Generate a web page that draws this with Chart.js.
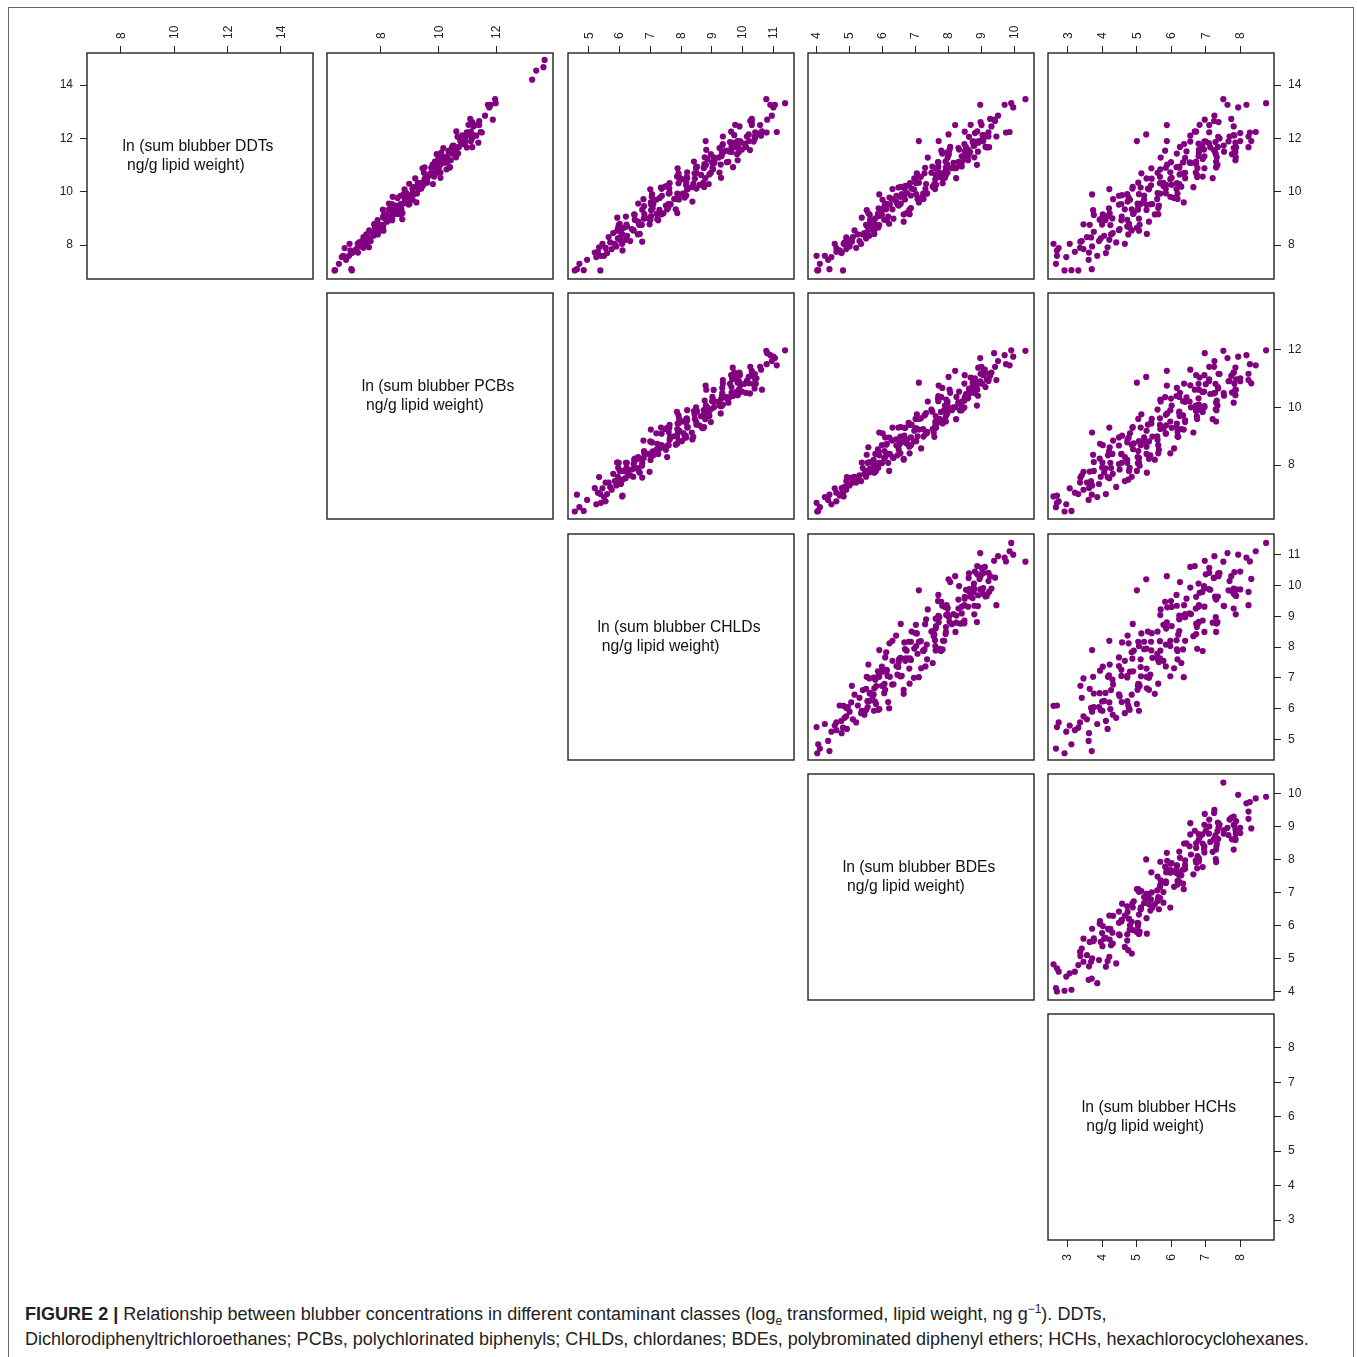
<!DOCTYPE html>
<html><head><meta charset="utf-8">
<script src="https://cdn.jsdelivr.net/npm/chart.js@4.4.1/dist/chart.umd.min.js"></script>
<style>
html,body{margin:0;padding:0;background:#fff;}
#fig{position:relative;width:1357px;height:1357px;overflow:hidden;font-family:"Liberation Sans",Arial,sans-serif;background:#fff;}
#frame{position:absolute;left:8px;top:7px;width:1346px;height:1400px;border:1px solid #666;box-sizing:border-box;}
canvas{position:absolute;}
#caption{position:absolute;left:25px;top:1302px;font-size:18.05px;line-height:25px;color:#222;white-space:nowrap;}
#caption sub,#caption sup{font-size:12px;line-height:0;}
</style></head><body>
<div id="fig"><div id="frame"></div>
<div id="caption"><b>FIGURE 2 |</b> Relationship between blubber concentrations in different contaminant classes (log<sub>e</sub> transformed, lipid weight, ng g<sup>−1</sup>). DDTs,<br>Dichlorodiphenyltrichloroethanes; PCBs, polychlorinated biphenyls; CHLDs, chlordanes; BDEs, polybrominated diphenyl ethers; HCHs, hexachlorocyclohexanes.</div>
</div>
<script>
// ---- data (ln ng/g lipid weight), one entry per sample ----
const ddt = [7.05,7.06,7.05,7.30,7.60,7.45,7.55,7.80,7.60,7.75,7.85,7.70,8.05,7.95,8.10,7.90,8.15,8.05,8.30,8.20,8.25,8.40,8.15,8.45,8.35,8.55,8.50,8.60,8.40,8.65,
8.76,8.54,8.94,8.70,8.78,8.56,8.99,8.77,8.95,9.13,8.76,9.07,9.00,9.15,8.93,9.33,9.09,9.17,8.95,9.38,
9.16,9.34,9.52,9.15,9.46,9.39,9.54,9.32,9.72,9.48,9.56,9.34,9.77,9.55,9.73,9.91,9.54,9.85,9.78,9.93,
9.71,10.11,9.87,9.95,9.73,10.16,9.94,10.12,10.30,9.93,10.24,10.17,10.32,10.10,10.50,10.26,10.34,10.12,10.55,10.33,
10.51,10.69,10.32,10.63,10.56,10.71,10.49,10.89,10.65,10.73,10.51,10.94,10.72,10.90,11.08,10.71,11.02,10.95,11.10,10.88,
11.28,11.04,11.12,10.90,11.33,11.11,11.29,11.47,11.10,11.41,11.34,11.49,11.27,11.67,11.43,11.51,11.29,11.72,11.50,11.68,
11.86,11.49,11.80,11.73,11.88,11.66,12.06,11.82,11.90,11.68,12.11,11.89,12.07,12.25,11.88,
13.32,13.47,13.26,13.16,13.26,12.65,12.50,12.45,12.20,11.90,12.00,11.64,12.12,12.50,12.15,11.90,11.90,12.10,12.85,12.70,
9.90,10.10,9.70,14.20,14.54,14.67,14.94,
7.10,7.89,7.72,8.05,7.92,8.29,8.66,8.13,8.75,8.42,9.03,8.80,9.31,8.88,9.19,9.56,8.97,9.53,9.20,9.81,
9.52,10.09,9.60,9.91,10.22,9.63,10.19,9.86,10.47,10.18,10.69,10.26,10.57,10.88,10.29,10.91,10.52,11.13,10.84,11.41,
10.92,11.23,11.54,11.01,11.57,11.18,11.79,11.56,12.07,11.58,11.89,12.26,11.67,12.23,11.84,12.51,12.22,12.73,12.24,12.61];
const pcb = [6.40,6.42,7.00,6.55,6.70,6.80,6.65,6.95,6.90,7.05,7.15,7.00,7.20,7.30,7.25,7.40,7.35,7.45,7.40,7.55,7.60,7.50,7.65,7.70,7.75,7.60,7.80,7.85,7.90,7.80,
7.78,8.09,7.89,8.08,7.77,8.04,8.25,7.92,8.18,8.11,7.98,8.08,8.39,8.19,8.39,8.07,8.34,8.55,8.23,8.48,
8.41,8.28,8.39,8.69,8.49,8.69,8.38,8.64,8.85,8.53,8.79,8.71,8.58,8.69,9.00,8.79,8.99,8.68,8.95,9.15,
8.83,9.09,9.02,8.88,8.99,9.30,9.10,9.29,8.98,9.25,9.46,9.13,9.39,9.32,9.19,9.29,9.60,9.40,9.60,9.28,
9.55,9.76,9.44,9.69,9.62,9.49,9.60,9.90,9.70,9.90,9.59,9.85,10.06,9.74,10.00,9.92,9.79,9.90,10.21,10.00,
10.20,9.89,10.16,10.36,10.04,10.30,10.23,10.09,10.20,10.51,10.31,10.50,10.19,10.46,10.67,10.34,10.60,10.53,10.40,10.50,
10.81,10.61,10.81,10.49,10.76,10.97,10.65,10.90,10.83,10.70,10.81,11.11,10.91,11.11,10.80,
11.97,11.95,11.80,11.75,11.70,11.40,11.40,11.20,11.00,10.90,11.15,10.16,11.20,11.26,11.05,10.85,10.75,11.30,11.60,11.87,
9.13,9.30,9.10,13.23,13.37,13.62,13.66,
6.98,6.75,7.21,6.92,7.59,7.45,7.91,7.57,8.08,7.74,8.09,7.80,8.36,8.22,8.62,8.28,8.74,8.34,8.75,8.41,
8.96,8.82,9.23,8.83,9.29,8.89,9.25,8.96,9.51,9.32,9.72,9.38,9.84,9.44,9.80,9.51,10.06,9.87,10.27,9.93,
10.39,9.99,10.35,10.06,10.61,10.42,10.82,10.48,10.94,10.54,10.90,10.61,11.16,10.97,11.37,11.03,11.49,11.09,11.45,11.16];
const chld = [4.55,4.84,5.38,4.70,5.40,4.95,5.25,6.10,5.50,5.30,5.75,5.60,5.45,5.90,5.70,5.55,6.05,5.85,5.65,6.20,5.95,6.10,6.35,5.80,6.25,6.45,6.05,6.40,6.60,6.15,
6.64,5.93,6.51,6.24,6.98,6.46,6.79,6.23,7.01,6.49,6.73,6.21,6.94,6.48,7.26,6.74,7.03,7.21,6.50,7.08,
6.81,7.55,7.03,7.36,6.80,7.58,7.06,7.30,6.78,7.51,7.05,7.83,7.31,7.60,7.78,7.06,7.65,7.38,8.12,7.60,
7.93,7.37,8.15,7.63,7.87,7.35,8.08,7.62,8.40,7.88,8.17,8.35,7.63,8.22,7.95,8.68,8.17,8.50,7.94,8.72,
8.20,8.44,7.92,8.65,8.19,8.97,8.45,8.74,8.92,8.20,8.79,8.52,9.25,8.74,9.07,8.50,9.29,8.77,9.01,8.49,
9.22,8.76,9.54,9.02,9.31,9.49,8.77,9.36,9.09,9.82,9.31,9.64,9.07,9.86,9.34,9.57,9.06,9.79,9.33,10.11,
9.59,9.88,10.06,9.34,9.93,9.66,10.39,9.88,10.21,9.64,10.43,9.91,10.14,9.63,10.36,
11.38,10.77,10.90,11.00,11.05,10.25,10.57,9.90,10.45,9.87,10.40,9.25,9.73,10.30,10.20,9.84,8.80,10.60,10.95,10.80,
7.90,8.20,7.20,null,null,null,null,
4.62,5.55,5.20,6.09,5.34,6.02,5.96,6.74,5.98,6.66,5.93,6.01,7.03,6.61,7.43,6.61,7.23,7.10,7.88,7.05,
7.66,7.00,7.02,8.03,7.55,8.37,7.48,8.17,8.03,8.75,7.92,8.60,7.87,7.89,8.90,8.49,9.30,8.42,9.04,8.97,
9.69,8.86,9.47,8.81,8.82,9.84,9.36,10.24,9.36,9.98,9.84,10.63,9.79,10.41,9.68,9.76,10.78,10.30,11.11,10.30];
const bde = [4.02,4.05,4.80,4.10,4.00,4.35,4.45,4.70,4.25,4.60,4.90,4.75,4.55,5.00,4.85,5.20,4.95,5.35,5.10,5.05,5.50,5.25,5.30,5.45,5.60,5.15,5.55,5.70,5.40,5.80,
5.50,5.74,5.62,5.54,5.60,5.73,6.33,5.77,5.73,5.61,5.81,6.17,5.78,6.64,6.12,5.98,5.90,5.86,6.05,5.88,
6.82,6.30,6.22,5.98,6.06,6.86,6.15,6.81,6.29,6.49,6.55,6.11,7.17,6.50,7.06,6.58,6.54,6.42,6.21,7.35,
6.68,7.30,6.66,6.74,7.24,6.48,7.34,6.67,7.57,7.23,6.79,7.55,6.83,7.59,6.96,7.62,7.10,6.88,7.73,7.01,
7.83,7.04,7.82,7.92,7.16,7.72,7.00,8.10,7.61,7.87,8.23,7.51,7.97,7.29,8.15,7.48,7.96,8.40,7.69,8.21,
7.37,8.35,8.30,8.24,8.40,7.68,8.48,7.94,8.40,8.61,8.59,8.65,7.97,8.53,7.81,8.49,8.78,8.76,8.89,8.05,
8.73,8.63,8.77,8.78,8.76,9.16,8.62,8.78,8.94,9.12,9.03,9.05,9.21,8.49,8.87,
9.90,10.33,9.70,9.96,8.96,9.41,9.00,9.30,8.80,8.96,9.06,8.30,9.05,8.20,8.00,7.10,7.70,9.10,9.50,9.38,
5.90,6.30,6.00,null,null,null,null,
4.39,4.60,4.76,4.82,4.92,4.90,5.87,5.07,5.90,5.75,5.37,6.20,5.52,6.64,5.57,6.08,6.13,6.45,6.73,6.54,
6.08,6.95,7.10,7.02,6.69,6.41,7.52,6.86,7.60,6.55,7.27,7.61,7.77,7.61,7.32,7.92,7.89,7.91,7.93,8.01,
7.69,8.48,7.78,8.86,8.03,8.59,8.48,8.61,9.45,8.32,8.74,8.87,9.23,9.21,8.90,8.67,9.74,9.26,9.85,8.97];
const hch = [2.90,3.10,3.30,2.65,2.68,3.60,2.95,2.68,3.85,3.20,3.45,4.10,3.05,3.70,4.40,3.35,3.90,4.65,3.55,4.20,3.95,4.75,3.40,4.30,4.05,4.85,3.75,4.50,4.25,5.00,
3.63,5.06,4.09,4.72,3.45,4.48,5.06,3.99,4.72,3.75,5.08,4.56,4.29,5.52,4.55,5.03,4.16,4.89,3.92,4.19,
5.62,4.65,5.28,4.01,5.04,5.62,4.55,5.28,4.31,5.64,5.12,4.85,6.08,5.11,5.59,4.72,5.45,4.48,4.76,6.18,
5.21,5.84,4.57,5.60,6.18,5.11,5.84,4.87,6.20,5.68,5.41,6.64,5.67,6.15,5.28,6.01,5.04,5.32,6.75,5.77,
6.40,5.13,6.16,6.74,5.67,6.40,5.43,6.76,6.24,5.97,7.20,6.23,6.71,5.84,6.57,5.60,5.88,7.31,6.34,6.96,
5.69,6.72,7.30,6.23,6.96,5.99,7.32,6.80,6.53,7.76,6.79,7.27,6.40,7.13,6.16,6.44,7.87,6.90,7.53,6.25,
7.28,7.86,6.79,7.52,6.55,7.88,7.36,7.09,8.32,7.35,7.83,6.96,7.69,6.72,7.00,
8.75,7.51,8.18,7.94,7.63,7.24,7.10,7.81,8.00,8.00,7.40,7.81,7.81,5.87,5.27,5.00,5.87,6.55,7.25,6.97,
3.70,4.20,4.80,null,null,null,null,
3.69,2.73,3.61,2.58,4.15,3.67,4.79,3.36,4.23,5.29,4.00,4.77,3.73,5.35,4.21,5.02,3.93,5.39,4.91,5.97,
4.48,5.35,6.36,5.06,5.77,4.73,6.29,5.21,5.97,4.88,6.34,5.85,6.91,5.42,6.23,7.30,6.01,6.72,5.68,7.29,
6.15,6.91,5.82,7.34,6.80,7.86,6.37,7.23,8.24,6.95,7.66,6.68,8.24,7.10,7.86,6.82,8.28,7.74,8.45,7.37];

const variableLabels = ['ln (sum blubber DDTs','ln (sum blubber PCBs','ln (sum blubber CHLDs','ln (sum blubber BDEs','ln (sum blubber HCHs'];
const unitLabel = ' ng/g lipid weight)';
const ddtTicks = [8,10,12,14];
const pcbTicks = [8,10,12];
const chldTicks = [5,6,7,8,9,10,11];
const bdeTicks = [4,5,6,7,8,9,10];
const hchTicks = [3,4,5,6,7,8];
const ddtRange = [6.73,15.2];
const pcbRange = [6.14,13.95];
const chldRange = [4.33,11.67];
const bdeRange = [3.74,10.59];
const hchRange = [2.42,8.98];

// ---- layout ----
const vars = [ddt,pcb,chld,bde,hch];
const tickSets = [ddtTicks,pcbTicks,chldTicks,bdeTicks,hchTicks];
const ranges = [ddtRange,pcbRange,chldRange,bdeRange,hchRange];
const FONT = '"Liberation Sans", Arial, sans-serif';
const PURPLE = 'rgb(128,0,128)';
const M = 46, PANEL = 226, STEP = 240.25;
const panelLeft = c => Math.round(87 + STEP*c);
const panelTop = r => Math.round(53 + STEP*r);

const boxPlugin = {
  id: 'panelBox',
  afterDraw(chart, args, opts) {
    const a = chart.chartArea, ctx = chart.ctx;
    ctx.save();
    ctx.strokeStyle = '#222';
    ctx.lineWidth = 1.4;
    ctx.strokeRect(a.left, a.top, a.right - a.left, a.bottom - a.top);
    if (opts && opts.label) {
      ctx.fillStyle = '#111';
      ctx.font = '15.7px ' + FONT;
      ctx.textBaseline = 'middle';
      ctx.textAlign = 'left';
      const w = ctx.measureText(opts.label).width;
      const x0 = (a.left + a.right)/2 - w/2 - 2;
      ctx.fillText(opts.label, x0, a.top + 94);
      ctx.fillText(unitLabel, x0, a.top + 113);
    }
    ctx.restore();
  }
};

function axisCfg(v, position, show) {
  const horiz = position === 'top' || position === 'bottom';
  return {
    type: 'linear', position, display: show,
    min: ranges[v][0], max: ranges[v][1],
    afterBuildTicks(ax) { ax.ticks = tickSets[v].map(t => ({value: t})); },
    afterFit(ax) {
      if (!show) { ax.width = 0; ax.height = 0; return; }
      if (horiz) ax.height = M; else ax.width = M;
    },
    grid: {drawOnChartArea: false, drawTicks: true, tickLength: 7, color: '#222', lineWidth: 1},
    border: {display: false},
    ticks: {
      font: {family: FONT, size: 12}, color: '#222', padding: 7,
      labelOffset: position === 'top' ? 15 : 0,
      minRotation: horiz ? 90 : 0, maxRotation: horiz ? 90 : 0, autoSkip: false,
      callback: val => String(val)
    }
  };
}

const fig = document.getElementById('fig');
for (let r = 0; r < 5; r++) {
  for (let c = r; c < 5; c++) {
    const cv = document.createElement('canvas');
    const size = PANEL + 2*M;
    cv.width = size; cv.height = size;
    cv.style.left = (panelLeft(c) - M) + 'px';
    cv.style.top = (panelTop(r) - M) + 'px';
    cv.style.width = size + 'px'; cv.style.height = size + 'px';
    fig.appendChild(cv);
    const showTop = r === 0, showBottom = (r === 4 && c === 4);
    const showLeft = (r === 0 && c === 0), showRight = c === 4;
    const pts = [];
    if (r !== c) {
      const xs = vars[c], ys = vars[r];
      for (let i = 0; i < xs.length; i++) {
        if (xs[i] !== null && ys[i] !== null) pts.push({x: xs[i], y: ys[i]});
      }
    }
    new Chart(cv, {
      type: 'scatter',
      data: {datasets: [{data: pts, backgroundColor: PURPLE, borderWidth: 0, pointRadius: 3.1, pointHoverRadius: 3.1}]},
      options: {
        responsive: false, maintainAspectRatio: false, animation: false, events: [],
        devicePixelRatio: 1,
        layout: {padding: {top: showTop ? 0 : M, bottom: showBottom ? 0 : M, left: showLeft ? 0 : M, right: showRight ? 0 : M}},
        plugins: {legend: {display: false}, tooltip: {enabled: false},
          panelBox: {label: r === c ? variableLabels[r] : null}},
        scales: {
          x: axisCfg(c, 'bottom', showBottom),
          xt: axisCfg(c, 'top', showTop),
          y: axisCfg(r, 'left', showLeft),
          yr: axisCfg(r, 'right', showRight)
        }
      },
      plugins: [boxPlugin]
    });
  }
}
</script>
</body></html>
